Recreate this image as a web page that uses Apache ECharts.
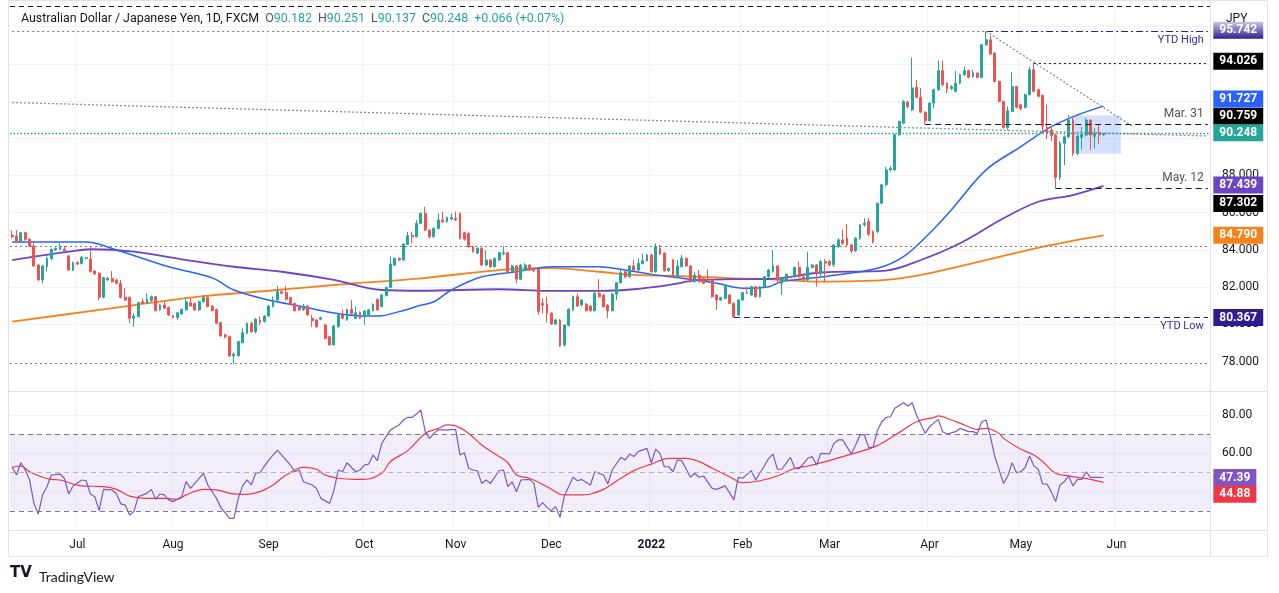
<!DOCTYPE html>
<html>
<head>
<meta charset="utf-8">
<script src="https://cdn.jsdelivr.net/npm/echarts@6.0.0/dist/echarts.min.js"></script>
<style>
  html, body { margin: 0; padding: 0; background: #ffffff; }
  #chart { width: 1279px; height: 593px; }
</style>
</head>
<body>
<div id="chart"></div>
<script>
// ---------------- DATA ----------------
// Category axis: weekdays (FX daily bars) from 2021-06-10 over 276 slots (to end of June 2022)
const firstDay = '2021-06-10';
const slotCount = 276;
const monthLabels = ['2022', 'Feb', 'Mar', 'Apr', 'May', 'Jun', 'Jul', 'Aug', 'Sep', 'Oct', 'Nov', 'Dec'];
const priceTicks = [78, 80, 82, 84, 86, 88];
const priceGrid = [78, 80, 82, 84, 86, 88, 90, 92, 94, 96];
const rsiTicks = [60, 80];
const rsiGrid = [20, 40, 60, 80];

// Daily candles [open, high, low, close], one per weekday from 2021-06-10 to 2022-05-27
const ohlc = [
[84.80,85.04,84.63,84.71],[84.75,85.07,84.39,84.45],[84.45,84.98,84.39,84.93],[84.93,84.98,84.50,84.57],
[84.57,84.63,84.16,84.21],[84.21,84.36,83.10,83.14],[83.19,83.25,82.33,82.39],[82.39,83.20,82.21,83.14],
[83.10,83.65,82.84,83.55],[83.53,84.09,83.46,84.03],[84.00,84.14,83.95,84.09],[84.03,84.36,83.98,84.18],
[84.03,84.21,83.82,83.91],[83.68,83.73,82.88,82.92],[82.92,83.37,82.86,83.32],[83.32,83.40,83.18,83.25],
[83.28,83.68,83.22,83.61],[83.55,83.62,83.50,83.58],[83.50,84.21,82.78,82.84],[82.87,82.92,82.65,82.71],
[82.75,82.80,81.31,81.46],[81.46,82.56,81.40,82.51],[82.39,82.55,82.35,82.48],[82.48,82.87,82.25,82.30],
[82.39,82.45,82.15,82.21],[82.21,82.39,81.40,81.46],[81.46,81.94,81.25,81.31],[81.46,81.50,80.06,80.33],
[80.33,80.60,79.88,80.45],[80.42,81.22,80.38,81.17],[81.22,81.40,81.10,81.13],[81.13,81.67,81.08,81.35],
[81.28,81.55,81.22,81.49],[81.49,81.52,80.70,80.74],[80.78,81.10,80.74,81.05],[81.05,81.22,80.82,80.87],
[80.92,80.96,80.45,80.51],[80.47,80.51,80.33,80.38],[80.38,80.67,80.24,80.63],[80.56,80.85,80.52,80.81],
[80.78,81.40,80.74,81.22],[81.17,81.40,80.95,80.99],[81.13,81.17,80.74,80.78],[80.78,81.28,80.72,81.22],
[81.22,81.58,81.18,81.44],[81.44,81.49,80.92,80.96],[80.99,81.03,80.70,80.74],[80.81,80.85,80.02,80.06],
[80.10,80.15,79.34,79.38],[79.43,79.50,79.25,79.34],[79.34,79.40,78.25,78.31],[78.31,78.50,77.89,78.41],
[78.32,79.12,78.28,79.08],[79.02,79.79,78.98,79.56],[79.52,80.10,79.47,80.06],[80.06,80.15,79.56,79.61],
[79.61,80.33,79.52,80.29],[80.24,80.42,79.97,80.10],[80.15,80.50,80.10,80.45],[80.45,81.03,80.42,80.99],
[80.96,81.49,80.92,81.31],[81.31,82.07,81.28,81.76],[81.76,81.80,81.62,81.67],[81.71,82.07,81.30,81.35],
[81.44,81.49,81.03,81.08],[81.13,81.17,80.70,80.74],[80.92,80.96,80.72,80.78],[80.78,81.10,80.74,80.99],
[80.96,81.05,80.47,80.51],[80.33,80.51,79.88,80.20],[80.24,80.28,79.83,79.88],[80.28,80.42,80.22,80.36],
[79.97,80.02,79.20,79.25],[79.34,79.40,78.85,78.90],[78.90,79.97,78.86,79.92],[79.88,80.56,79.83,80.51],
[80.51,80.81,80.28,80.33],[80.24,80.85,80.20,80.81],[80.81,81.31,80.56,80.60],[80.33,80.96,80.28,80.63],
[80.65,80.70,80.28,80.33],[80.42,80.76,79.97,80.72],[80.51,80.83,80.47,80.78],[80.74,81.13,80.70,81.08],
[81.35,81.40,80.74,80.78],[80.96,81.62,80.92,81.58],[81.55,82.03,81.50,81.99],[81.99,83.65,81.95,83.25],
[83.19,83.60,83.14,83.55],[83.55,83.60,83.40,83.46],[83.46,84.36,83.42,84.32],[84.30,84.98,84.25,84.77],
[84.79,84.98,84.36,84.71],[84.71,85.61,84.67,85.43],[85.43,86.02,85.38,85.97],[85.97,86.32,85.02,85.07],
[85.07,85.12,84.62,84.71],[84.71,85.22,84.66,85.16],[85.16,85.97,85.10,85.61],[85.61,86.06,85.45,85.52],
[85.52,85.80,85.47,85.75],[85.66,85.97,85.60,85.74],[85.70,86.06,85.55,85.61],[85.97,86.02,84.57,84.62],
[84.93,84.98,84.50,84.58],[84.89,84.95,84.12,84.18],[84.18,84.23,83.85,83.91],[83.82,84.15,83.78,84.09],
[84.09,84.14,83.14,83.19],[83.19,84.00,83.14,83.46],[83.46,83.52,83.05,83.10],[83.10,83.60,83.05,83.55],
[83.46,83.91,83.40,83.85],[83.78,84.20,83.72,83.85],[83.85,83.90,82.78,82.83],[82.83,83.20,82.78,83.14],
[83.14,83.20,82.21,82.43],[82.43,83.25,82.38,83.19],[82.92,83.28,82.88,83.19],[83.19,83.25,82.86,82.92],
[83.01,83.06,82.83,82.88],[82.96,83.00,80.51,80.69],[81.13,81.40,80.60,81.04],[81.09,81.49,80.10,80.60],
[80.60,80.65,79.97,80.02],[80.02,80.30,79.97,80.24],[80.24,80.30,78.79,78.84],[78.90,80.02,78.81,79.97],
[79.95,80.87,79.90,80.82],[80.78,81.55,80.73,81.49],[81.49,81.67,80.94,80.99],[81.04,81.36,80.99,81.31],
[81.09,81.15,80.69,80.74],[80.99,81.04,80.69,80.74],[80.74,81.85,80.69,81.67],[81.67,82.43,81.44,81.49],
[81.58,81.63,80.90,80.95],[81.04,81.09,80.33,80.74],[80.74,81.68,80.69,81.63],[81.63,82.29,81.31,82.24],
[82.24,82.92,82.19,82.78],[82.83,82.88,82.51,82.56],[82.56,83.19,82.51,83.14],[83.14,83.46,82.87,82.92],
[82.92,83.55,82.87,83.28],[83.28,83.80,83.23,83.42],[83.42,83.78,83.37,83.73],[83.73,83.80,82.78,82.83],
[82.83,84.36,82.78,84.18],[84.09,84.27,83.73,83.78],[83.82,83.88,82.83,82.88],[82.88,83.06,82.83,83.01],
[83.46,83.52,82.51,82.56],[82.56,83.46,82.51,83.14],[83.10,83.73,83.05,83.55],[83.55,83.60,83.10,83.14],
[83.14,83.19,82.25,82.30],[82.30,82.83,82.25,82.65],[82.65,82.92,82.25,82.30],[82.48,82.52,82.16,82.21],
[82.43,82.95,82.34,82.39],[82.39,82.44,81.44,81.49],[81.58,81.63,80.78,81.31],[81.31,81.49,81.26,81.44],
[81.40,82.17,81.35,82.03],[81.58,81.63,81.08,81.13],[81.13,81.18,80.367,80.42],[80.51,81.36,80.46,81.31],
[81.31,81.76,81.26,81.71],[81.71,82.03,81.62,81.67],[81.58,82.08,81.53,82.03],[82.03,82.08,81.44,81.49],
[81.49,82.08,81.44,82.03],[82.03,82.61,81.98,82.56],[82.56,82.97,82.51,82.92],[82.83,84.00,82.78,83.14],
[83.14,83.19,82.21,82.39],[82.21,82.52,81.58,82.48],[82.39,82.74,82.34,82.69],[82.56,82.61,82.48,82.53],
[82.56,83.11,82.51,83.06],[83.06,83.37,82.51,82.56],[82.56,82.61,82.34,82.39],[82.39,83.91,82.34,83.06],
[83.06,83.24,83.01,83.19],[83.19,83.24,82.03,82.74],[82.74,83.47,82.60,83.38],[83.38,83.50,82.30,83.30],
[83.38,83.47,83.10,83.20],[83.20,84.30,83.10,84.27],[84.18,84.63,84.10,84.54],[84.54,85.08,84.27,84.36],
[84.63,85.40,84.20,84.27],[84.27,84.32,83.82,83.95],[83.95,84.70,83.90,84.63],[84.63,85.40,84.55,85.35],
[85.35,85.71,85.25,85.44],[85.53,85.71,84.75,84.84],[84.99,85.05,84.35,84.43],[84.99,86.55,84.90,86.51],
[86.51,87.55,86.45,87.50],[87.50,88.45,87.41,88.30],[88.30,88.50,88.20,88.39],[88.30,90.25,88.25,90.19],
[90.19,90.95,90.10,90.90],[90.81,92.05,90.75,91.98],[91.93,92.02,91.60,91.71],[91.53,94.34,91.45,92.70],
[92.74,93.14,92.15,92.20],[92.20,92.70,91.35,91.40],[91.40,91.45,90.759,90.94],[90.94,91.95,90.90,91.89],
[91.89,92.66,91.62,92.61],[92.61,94.17,92.55,93.63],[93.63,94.17,92.80,92.87],[92.96,93.00,92.43,92.66],
[92.66,92.85,92.60,92.78],[92.52,93.63,92.47,92.96],[92.96,93.45,92.90,93.41],[93.41,93.86,93.35,93.63],
[93.63,93.68,93.22,93.27],[93.32,93.68,93.25,93.50],[93.50,93.55,93.22,93.27],[93.27,95.07,93.22,95.02],
[95.02,95.742,94.97,95.29],[95.29,95.50,94.47,94.52],[94.58,94.62,93.00,93.05],[93.05,93.10,91.93,91.98],
[91.98,92.03,90.50,90.58],[90.58,91.71,90.45,91.48],[91.44,93.55,91.40,92.78],[92.78,92.82,91.60,91.66],
[91.80,91.85,91.50,91.58],[91.66,92.40,91.60,92.34],[92.34,93.86,92.30,93.68],[93.68,94.026,92.47,92.52],
[92.61,92.66,92.20,92.25],[92.30,92.35,90.40,90.65],[90.60,91.80,89.95,90.25],[90.45,90.65,89.85,90.15],
[90.17,90.25,87.302,87.90],[87.90,89.85,87.75,89.73],[89.73,90.15,88.56,90.08],[90.08,91.25,90.00,90.98],
[90.98,91.20,89.05,89.19],[89.19,90.20,89.10,90.12],[90.05,90.60,89.40,90.20],[90.17,91.10,90.10,90.98],
[90.98,91.00,89.37,90.17],[90.10,90.55,89.45,90.22],[90.30,90.70,89.70,90.182],[90.182,90.251,90.137,90.248]
];

// Moving averages: [bar index, value]
const sma50 = [[0,84.43],[17,84.43],[24,84.00],[36,83.10],[46,82.50],[51,81.85],[59,81.31],[66,80.99],[74,80.62],
 [82,80.45],[85,80.47],[89,80.69],[94,81.03],[97,81.22],[101,81.85],[108,82.56],[116,82.83],[124,83.10],[135,83.10],
 [140,82.96],[147,82.69],[154,82.48],[162,82.21],[168,81.94],[174,82.03],[177,82.30],[186,82.55],[199,83.02],
 [205,83.64],[211,84.90],[216,86.15],[224,88.30],[232,89.55],[239,90.62],[245,91.25],[251,91.727]];
const sma100 = [[0,83.46],[13,83.91],[18,84.04],[28,83.91],[39,83.50],[51,83.10],[62,82.83],[74,82.39],[85,81.85],
 [94,81.81],[112,81.89],[124,81.80],[135,81.80],[143,81.89],[151,82.12],[158,82.39],[166,82.43],[174,82.44],
 [186,82.79],[201,82.89],[209,83.46],[218,84.36],[228,85.70],[236,86.59],[244,86.95],[251,87.439]];
const sma200 = [[0,80.15],[20,80.78],[43,81.49],[59,81.81],[74,82.12],[94,82.48],[112,82.92],[124,83.02],
 [135,82.83],[143,82.66],[154,82.60],[166,82.48],[174,82.43],[186,82.30],[201,82.39],[209,82.66],[224,83.46],
 [239,84.27],[251,84.790]];

// RSI (14) and its moving average: [bar index, value]
const rsi = [[0,52.7],[1,48.7],[2,55.1],[3,51.3],[4,46.1],[5,33.9],[6,28.3],[7,38.3],[8,42.6],[9,48.7],[11,49.2],
 [12,47.0],[13,38.8],[14,43.0],[16,46.1],[17,45.7],[18,38.8],[19,37.4],[20,30.1],[21,41.2],[23,40.9],[24,38.8],
 [25,33.6],[26,33.0],[27,27.8],[28,29.6],[29,37.4],[31,39.1],[32,41.2],[33,36.0],[34,38.8],[35,38.3],[36,35.7],
 [37,34.8],[39,37.4],[40,45.2],[41,41.7],[44,49.6],[45,43.5],[47,36.5],[48,31.8],[50,26.1],[51,26.1],[52,36.5],
 [53,43.0],[54,46.1],[55,43.5],[56,49.6],[57,50.0],[59,56.5],[60,59.1],[61,61.7],[62,59.1],[64,53.9],[65,50.4],
 [66,51.3],[67,45.2],[69,43.5],[70,41.7],[71,36.5],[73,33.9],[74,40.5],[75,51.3],[76,50.4],[77,55.1],[79,50.4],
 [80,51.3],[81,53.9],[82,54.4],[83,59.1],[84,56.2],[85,65.2],[87,72.2],[88,73.6],[89,74.8],[90,77.4],[91,78.8],
 [92,78.8],[93,80.5],[94,82.6],[95,71.3],[96,67.8],[97,70.4],[98,72.2],[100,72.2],[102,72.5],[103,59.1],[104,60.3],
 [105,52.2],[106,51.3],[107,50.8],[108,44.3],[109,46.1],[110,44.3],[112,50.9],[113,51.3],[114,42.6],[115,45.2],
 [116,40.0],[117,46.1],[119,46.4],[120,44.3],[121,31.8],[122,34.3],[123,31.8],[124,30.1],[125,32.2],[126,26.6],
 [127,37.7],[129,47.5],[130,45.7],[131,46.4],[133,43.5],[134,50.4],[136,48.7],[137,44.0],[138,51.3],[140,57.9],
 [141,56.5],[142,59.6],[143,58.3],[144,60.9],[146,62.6],[147,55.1],[148,62.1],[149,60.0],[150,53.0],[151,53.0],
 [152,50.4],[153,56.5],[154,56.2],[156,47.5],[157,49.6],[158,47.5],[159,48.2],[161,41.7],[162,41.2],[164,43.0],
 [166,35.7],[167,47.5],[168,47.0],[170,51.0],[171,46.1],[173,53.4],[174,57.4],[175,59.5],[176,51.7],[177,51.7],
 [179,57.9],[180,52.2],[181,52.0],[183,57.4],[184,58.3],[185,53.9],[186,60.0],[188,59.7],[189,65.2],[190,67.0],
 [191,67.0],[193,59.7],[194,64.3],[195,69.6],[196,69.6],[197,63.1],[198,63.1],[199,71.8],[200,76.5],[201,78.8],
 [202,79.1],[203,83.5],[205,86.4],[206,84.7],[207,86.4],[208,80.0],[210,70.4],[211,73.9],[213,77.7],[214,71.3],
 [215,70.1],[217,71.3],[218,73.0],[220,71.3],[221,71.3],[222,70.4],[223,76.5],[224,77.4],[225,68.7],[226,58.3],
 [228,44.3],[229,48.2],[230,55.1],[231,49.9],[232,50.4],[233,52.7],[234,58.6],[235,53.4],[236,51.7],[237,44.0],
 [238,44.0],[239,40.0],[240,34.8],[241,43.5],[242,45.2],[243,48.2],[244,43.0],[245,46.4],[246,46.4],[247,50.4],
 [248,47.5],[250,47.5],[251,47.39]];
const rsiMa = [[0,52.7],[2,53.4],[4,50.4],[7,47.5],[9,46.4],[11,46.1],[14,44.0],[16,43.0],[21,42.6],[24,41.2],
 [27,37.7],[31,36.5],[35,36.5],[38,36.0],[40,38.3],[44,41.2],[47,40.9],[51,38.8],[54,38.6],[57,40.0],[60,43.5],
 [63,48.7],[67,52.7],[70,51.7],[72,48.7],[75,47.0],[79,46.4],[81,46.4],[85,49.6],[87,55.7],[91,61.4],[95,70.4],
 [98,73.0],[100,74.8],[102,74.3],[105,70.4],[108,64.3],[112,58.3],[114,55.1],[116,48.7],[119,47.0],[123,42.6],
 [127,38.3],[130,38.3],[133,38.8],[136,41.2],[140,47.0],[143,51.0],[147,54.4],[151,57.4],[155,57.4],[158,55.7],
 [161,52.2],[165,47.8],[168,44.7],[172,45.7],[176,48.2],[180,52.2],[183,53.4],[187,55.7],[191,58.3],[195,60.9],
 [198,63.1],[201,66.6],[204,70.8],[208,76.5],[212,78.8],[213,79.5],[216,77.4],[219,74.8],[222,72.5],[224,73.0],
 [227,70.4],[228,67.8],[232,62.1],[235,59.1],[237,55.7],[240,49.6],[243,48.2],[245,47.5],[248,46.4],[251,44.88]];

// Drawn horizontal levels / annotations
const topLine = 97.1;
const ytdHigh = 95.742, ytdHighBar = 224;
const may5High = 94.026, may5Bar = 235;
const mar31Low = 90.759, mar31Bar = 210;
const may12Low = 87.302, may12Bar = 240;
const ytdLow = 80.367, ytdLowBar = 166;
const dottedLevels = [84.21, 77.91];
const longTrend = [[0, 91.92], [275, 90.12]];
const downTrend = [[224, 95.742], [258, 90.59]];
const consolidationBox = [[244, 91.23], [255, 89.17]];
const rsiLevels = [70, 50, 30];

// ---------------- BUILD ----------------
const dates = [];
(function () {
  const d = new Date(firstDay + 'T00:00:00Z');
  while (dates.length < slotCount) {
    const wd = d.getUTCDay();
    if (wd !== 0 && wd !== 6) dates.push(d.toISOString().slice(0, 10));
    d.setUTCDate(d.getUTCDate() + 1);
  }
})();
const isMonthStart = (i) => i > 0 && dates[i].slice(0, 7) !== dates[i - 1].slice(0, 7);
const lastIdx = slotCount - 1;
const candleData = ohlc.map(r => [r[0], r[3], r[2], r[1]]);
const last = ohlc[ohlc.length - 1];
const prevClose = ohlc[ohlc.length - 2][3];
const chg = last[3] - prevClose;
const sgn = (v) => (v >= 0 ? '+' : '');

const FONT = 'Roboto';
const UP = '#26a69a', DOWN = '#ef5350';
const GRIDC = '#f0f3fa';

function priceTag(value, bg, dy, digits, color) {
  return {
    coord: [lastIdx, value],
    value: value,
    label: {
      show: true, position: 'right', distance: 5, offset: [0, dy || 0],
      formatter: value.toFixed(digits === undefined ? 3 : digits),
      backgroundColor: bg, color: color || '#ffffff', padding: [2, 6, 2, 6],
      fontSize: 12, fontWeight: 'bold', fontFamily: FONT, lineHeight: 13
    }
  };
}
const tagBase = { symbol: 'rect', symbolSize: 1, itemStyle: { color: 'rgba(0,0,0,0)' }, silent: true, animation: false };

const titleText =
  '{n|Australian Dollar / Japanese Yen, 1D, FXCM  }' +
  '{k|O}{v|' + last[0].toFixed(3) + '  }' +
  '{k|H}{v|' + last[1].toFixed(3) + '  }' +
  '{k|L}{v|' + last[2].toFixed(3) + '  }' +
  '{k|C}{v|' + last[3].toFixed(3) + '  }' +
  '{v|' + sgn(chg) + chg.toFixed(3) + ' (' + sgn(chg) + (chg / prevClose * 100).toFixed(2) + '%)}';
const TFS = 12.4;

const chart = echarts.init(document.getElementById('chart'), null, { renderer: 'canvas' });
chart.setOption({
  animation: false,
  backgroundColor: '#ffffff',
  textStyle: { fontFamily: FONT },
  title: [
    {
      left: 16, top: 8, text: titleText,
      textStyle: {
        fontSize: TFS, fontWeight: 'normal', fontFamily: FONT, color: '#131722',
        rich: {
          n: { fontSize: TFS, color: '#131722', fontFamily: FONT },
          k: { fontSize: TFS, color: '#50535e', fontFamily: FONT },
          v: { fontSize: TFS, color: UP, fontFamily: FONT }
        }
      }
    },
    { left: 1221, top: 8, text: 'JPY', textStyle: { fontSize: 12, fontWeight: 'normal', color: '#131722', fontFamily: FONT } },
    { left: 34, top: 565, text: 'TradingView', textStyle: { fontSize: 14, fontWeight: 'normal', color: '#131722', fontFamily: 'Lato' } }
  ],
  graphic: [
    { type: 'rect', shape: { x: 8.5, y: 0.5, width: 1259, height: 556 }, style: { fill: 'none', stroke: '#e0e3eb', lineWidth: 1 }, silent: true, z: 100 },
    { type: 'line', shape: { x1: 1210.5, y1: 0, x2: 1210.5, y2: 556 }, style: { stroke: '#e0e3eb', lineWidth: 1 }, silent: true, z: 100 },
    { type: 'line', shape: { x1: 8, y1: 391.5, x2: 1268, y2: 391.5 }, style: { stroke: '#e0e3eb', lineWidth: 1 }, silent: true, z: 100 },
    { type: 'line', shape: { x1: 8, y1: 530.5, x2: 1268, y2: 530.5 }, style: { stroke: '#e0e3eb', lineWidth: 1 }, silent: true, z: 100 },
    { type: 'text', left: 10, top: 566, style: { text: 'TV', fontSize: 15, fontWeight: 900, fill: '#131722', fontFamily: 'DejaVu Sans' }, silent: true }
  ],
  grid: [
    { left: 10, top: 2, width: 1200, height: 389, show: false },
    { left: 10, top: 392, width: 1200, height: 138, show: false }
  ],
  xAxis: [
    {
      type: 'category', gridIndex: 0, data: dates, boundaryGap: true,
      axisLine: { show: false }, axisTick: { show: false }, axisLabel: { show: false },
      splitLine: { show: true, interval: (i) => isMonthStart(i), lineStyle: { color: GRIDC, width: 1 } }
    },
    {
      type: 'category', gridIndex: 1, data: dates, boundaryGap: true,
      axisLine: { show: false }, axisTick: { show: false },
      axisLabel: {
        show: true, interval: (i) => isMonthStart(i), margin: 9, fontSize: 12, color: '#131722', fontFamily: FONT,
        formatter: (v) => { const m = parseInt(v.slice(5, 7), 10); return m === 1 ? '{y|' + v.slice(0, 4) + '}' : monthLabels[m - 1]; },
        rich: { y: { fontWeight: 'bold', fontSize: 12, color: '#131722', fontFamily: FONT } }
      },
      splitLine: { show: true, interval: (i) => isMonthStart(i), lineStyle: { color: GRIDC, width: 1 } }
    }
  ],
  yAxis: [
    {
      type: 'value', gridIndex: 0, position: 'right', min: 76.426, max: 97.318, scale: true,
      axisLine: { show: false },
      axisTick: { show: false, customValues: priceGrid },
      axisLabel: { customValues: priceTicks, margin: 12, fontSize: 12, color: '#131722', fontFamily: FONT, formatter: (v) => v.toFixed(3) },
      splitLine: { show: true, lineStyle: { color: GRIDC, width: 1 } }
    },
    {
      type: 'value', gridIndex: 1, position: 'right', min: 20, max: 92,
      axisLine: { show: false },
      axisTick: { show: false, customValues: rsiGrid },
      axisLabel: { customValues: rsiTicks, margin: 12, fontSize: 12, color: '#131722', fontFamily: FONT, formatter: (v) => v.toFixed(2) },
      splitLine: { show: true, lineStyle: { color: GRIDC, width: 1 } }
    }
  ],
  series: [
    {
      name: 'AUDJPY', type: 'candlestick', xAxisIndex: 0, yAxisIndex: 0, data: candleData,
      barWidth: 2.4, z: 3,
      itemStyle: { color: UP, color0: DOWN, borderColor: UP, borderColor0: DOWN, borderWidth: 1 },
      markArea: {
        silent: true, animation: false,
        itemStyle: { color: 'rgba(41,98,255,0.2)' },
        data: [[{ coord: consolidationBox[0] }, { coord: consolidationBox[1] }]]
      },
      markLine: {
        silent: true, animation: false, symbol: ['none', 'none'], precision: 3,
        label: { show: false },
        data: [
          { yAxis: topLine, lineStyle: { type: [5, 4], color: '#131722', width: 1 } },
          [{ coord: [0, ytdHigh], lineStyle: { type: [2, 3], color: '#787b86', width: 1 } }, { coord: [ytdHighBar, ytdHigh] }],
          [{ coord: [ytdHighBar, ytdHigh], lineStyle: { type: [7, 3, 2, 3], color: '#311b92', width: 1 },
             label: { show: true, position: 'insideEndBottom', formatter: 'YTD High', color: '#3c2a9e', fontSize: 11, fontFamily: FONT, distance: [4, 3] } },
           { coord: [lastIdx, ytdHigh] }],
          [{ coord: [may5Bar, may5High], lineStyle: { type: [2, 3], color: '#131722', width: 1 } }, { coord: [lastIdx, may5High] }],
          [{ coord: longTrend[0], lineStyle: { type: [2, 2], color: '#8a8d96', width: 1.3 } }, { coord: longTrend[1] }],
          [{ coord: downTrend[0], lineStyle: { type: [2, 2], color: '#8a8d96', width: 1.3 } }, { coord: downTrend[1] }],
          [{ coord: [mar31Bar, mar31Low], lineStyle: { type: [6, 4], color: '#131722', width: 1.2 },
             label: { show: true, position: 'insideEndTop', formatter: 'Mar. 31', color: '#50535e', fontSize: 12, fontFamily: FONT, distance: [4, 4] } },
           { coord: [lastIdx, mar31Low] }],
          { yAxis: last[3], lineStyle: { type: [1.5, 2], color: '#1f9e91', width: 1.4 } },
          [{ coord: [may12Bar, may12Low], lineStyle: { type: [6, 4], color: '#131722', width: 1.2 },
             label: { show: true, position: 'insideEndTop', formatter: 'May. 12', color: '#50535e', fontSize: 12, fontFamily: FONT, distance: [4, 4] } },
           { coord: [lastIdx, may12Low] }],
          { yAxis: dottedLevels[0], lineStyle: { type: [2, 3], color: '#787b86', width: 1 } },
          [{ coord: [ytdLowBar, ytdLow], lineStyle: { type: [6, 4], color: '#311b92', width: 1.2 },
             label: { show: true, position: 'insideEndBottom', formatter: 'YTD Low', color: '#3c2a9e', fontSize: 11, fontFamily: FONT, distance: [4, 3] } },
           { coord: [lastIdx, ytdLow] }],
          { yAxis: dottedLevels[1], lineStyle: { type: [2, 3], color: '#787b86', width: 1 } }
        ]
      },
      markPoint: Object.assign({}, tagBase, {
        data: [
          priceTag(ytdHigh, { type: 'linear', x: 0, y: 0, x2: 0, y2: 1, colorStops: [{ offset: 0, color: 'rgba(49,27,146,0.25)' }, { offset: 1, color: '#311b92' }] }, -1),
          priceTag(may5High, '#000000', -2),
          priceTag(mar31Low, '#000000', -8),
          priceTag(last[3], UP, -1),
          priceTag(may12Low, '#000000', 15),
          priceTag(ytdLow, '#311b92', 0)
        ]
      })
    },
    {
      name: 'SMA 200', type: 'line', xAxisIndex: 0, yAxisIndex: 0, data: sma200, showSymbol: false, smooth: 0.35,
      lineStyle: { color: '#f7821b', width: 1.8 }, z: 2,
      markPoint: Object.assign({}, tagBase, { data: [priceTag(sma200[sma200.length - 1][1], '#f7821b', 0)] })
    },
    {
      name: 'SMA 100', type: 'line', xAxisIndex: 0, yAxisIndex: 0, data: sma100, showSymbol: false, smooth: 0.35,
      lineStyle: { color: '#6e44c4', width: 1.8 }, z: 2,
      markPoint: Object.assign({}, tagBase, { data: [priceTag(sma100[sma100.length - 1][1], '#6e44c4', -1)] })
    },
    {
      name: 'SMA 50', type: 'line', xAxisIndex: 0, yAxisIndex: 0, data: sma50, showSymbol: false, smooth: 0.35,
      lineStyle: { color: '#2962ff', width: 1.5 }, z: 2,
      markPoint: Object.assign({}, tagBase, { data: [priceTag(sma50[sma50.length - 1][1], '#2962ff', -7)] })
    },
    {
      name: 'RSI', type: 'line', xAxisIndex: 1, yAxisIndex: 1, data: rsi, showSymbol: false,
      lineStyle: { color: '#7e57c2', width: 1.2 }, z: 3,
      markArea: { silent: true, animation: false, itemStyle: { color: 'rgba(126,87,194,0.1)' }, data: [[{ yAxis: rsiLevels[2] }, { yAxis: rsiLevels[0] }]] },
      markLine: {
        silent: true, animation: false, symbol: ['none', 'none'], label: { show: false },
        data: [
          { yAxis: rsiLevels[0], lineStyle: { type: [5, 4], color: '#787b86', width: 1 } },
          { yAxis: rsiLevels[1], lineStyle: { type: [5, 4], color: '#b2b5be', width: 1 } },
          { yAxis: rsiLevels[2], lineStyle: { type: [5, 4], color: '#787b86', width: 1 } }
        ]
      },
      markPoint: Object.assign({}, tagBase, { data: [priceTag(rsi[rsi.length - 1][1], '#7e57c2', 0, 2)] })
    },
    {
      name: 'RSI MA', type: 'line', xAxisIndex: 1, yAxisIndex: 1, data: rsiMa, showSymbol: false, smooth: 0.35,
      lineStyle: { color: '#f23645', width: 1.2 }, z: 2,
      markPoint: Object.assign({}, tagBase, { data: [priceTag(rsiMa[rsiMa.length - 1][1], '#f23645', 12, 2)] })
    }
  ]
});
</script>
</body>
</html>
